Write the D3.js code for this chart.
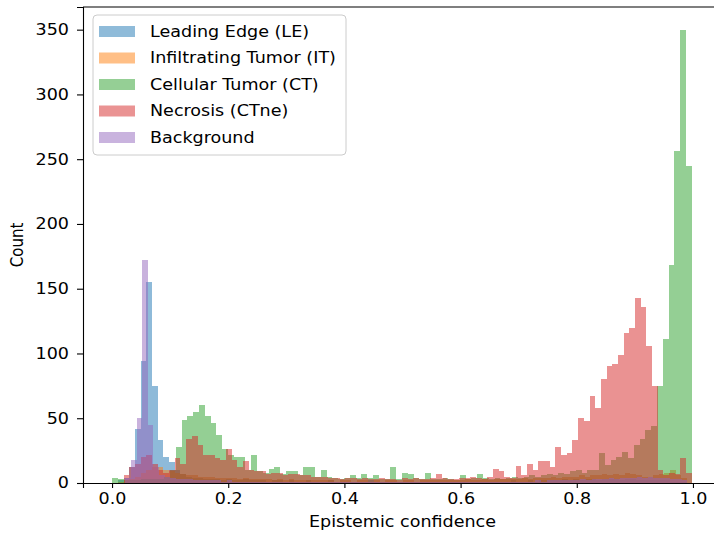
<!DOCTYPE html>
<html lang="en">
<head>
<meta charset="UTF-8">
<title>Epistemic confidence histogram</title>
<script src="https://d3js.org/d3.v7.min.js"></script>
<style>
    body { margin: 0; background: white; }
    svg text { font-family: "DejaVu Sans", sans-serif; fill: #000; }
</style>
</head>
<body>
<script>
    // series, in drawing order (later ones sit on top)
    var seriesNames = ["Leading Edge (LE)", "Infiltrating Tumor (IT)", "Cellular Tumor (CT)", "Necrosis (CTne)", "Background"];
    var seriesColors = ["#1f77b4", "#ff7f0e", "#2ca02c", "#d62728", "#9467bd"];

    // each series was binned separately: 100 bins between its own min and max
    var binLo = [0.01, 0.01, 0.0, 0.02, 0.023];
    var binHi = [0.99, 0.99, 0.998, 0.998, 0.99];

    var countsLE = [2,4,12,42,94,155,75,33,20,16, 10,7,5,4,4,3,3,3,2,3,
        2,2,3,2,2,2,1,2,2,1, 2,1,1,2,1,1,1,2,1,1, 1,1,1,1,2,1,1,1,1,1,
        1,1,1,1,1,1,1,1,1,1, 1,1,1,1,1,1,1,1,1,2, 1,1,2,1,2,2,2,2,3,2,
        3,2,3,3,2,3,3,3,2,3, 3,2,2,2,2,2,2,1,1,1];
    var countsIT = [1,2,3,5,8,10,12,12,10,9, 8,7,6,6,5,5,5,4,4,4,
        4,3,4,3,3,3,3,2,3,2, 3,2,2,2,2,2,2,2,1,2, 2,1,2,2,1,2,1,2,2,1,
        2,2,1,2,2,2,2,2,2,2, 2,3,2,2,3,2,3,3,3,3, 3,4,3,4,4,4,5,4,5,5,
        5,6,5,6,6,7,6,7,6,8, 7,6,5,5,6,7,8,10,6,4];
    var countsCT = [4,3,2,2,2,3,3,3,3,5, 10,28,49,52,55,60,52,46,37,26,
        22,20,20,10,22,9,8,11,12,7, 9,9,6,12,12,5,10,5,4,3, 4,6,4,7,4,6,3,3,12,3,
        8,7,4,3,8,3,3,4,3,2, 6,3,4,7,4,3,4,3,4,5, 4,5,6,5,6,7,6,8,7,9,
        10,8,10,10,23,14,18,20,24,19, 29,34,41,44,75,111,168,256,350,245];
    var countsCTne = [6,12,15,20,22,15,10,8,10,19, 15,34,36,29,22,22,19,18,26,18,
        12,17,10,9,9,7,8,8,6,7, 7,6,6,5,5,5,4,4,3,4, 4,3,4,3,3,4,3,3,2,4,
        3,4,3,3,4,7,4,3,3,4, 4,5,4,3,5,11,9,5,4,13, 6,15,10,17,17,12,28,22,23,33,
        50,48,67,58,80,90,92,99,116,120, 143,136,106,75,10,6,8,7,19,8];
    var countsBG = [4,18,50,172,45,12,6,5,4,3, 3,3,2,2,2,2,2,1,2,1,
        1,1,1,1,1,1,1,1,1,1, 1,1,1,1,1,1,1,1,1,1, 1,1,1,1,1,1,1,1,1,1,
        1,1,1,1,1,1,1,1,1,1, 1,1,1,1,1,1,1,1,1,1, 1,1,1,2,1,2,2,2,2,2,
        2,3,2,3,3,3,4,3,4,4, 4,5,4,5,4,4,4,3,3,2];
    var allCounts = [countsLE, countsIT, countsCT, countsCTne, countsBG];

    var xTicks = [0.0, 0.2, 0.4, 0.6, 0.8, 1.0];
    var yTicks = [0, 50, 100, 150, 200, 250, 300, 350];

    var width = 714, height = 538;
    var margin = {left: 83, right: -8, top: 7, bottom: 55};
    var fontSize = 15;
    var stretch = "scale(1.17,1)";  // the picture is a bit wider than tall

    var svg = d3.select("body").append("svg")
        .attr("width", width)
        .attr("height", height);

    var x = d3.scaleLinear()
        .domain([-0.05, 1.05])
        .range([margin.left, width - margin.right]);

    var yMax = d3.max(allCounts, function(c) { return d3.max(c); }) * 1.05;
    var y = d3.scaleLinear()
        .domain([0, yMax])
        .range([height - margin.bottom, margin.top]);

    var plot = svg.append("g");

    allCounts.forEach(function(counts, s) {
        var step = (binHi[s] - binLo[s]) / counts.length;
        var bins = counts.map(function(c, i) {
            return {x0: binLo[s] + i * step, x1: binLo[s] + (i + 1) * step, n: c};
        });
        plot.append("g")
            .attr("opacity", 0.5)
            .attr("fill", seriesColors[s])
            .selectAll("rect")
            .data(bins)
            .enter()
            .append("rect")
            .attr("shape-rendering", "crispEdges")
            .attr("x", function(d) { return x(d.x0); })
            .attr("width", function(d) { return x(d.x1) - x(d.x0); })
            .attr("y", function(d) { return y(d.n); })
            .attr("height", function(d) { return y(0) - y(d.n); });
    });

    // axes
    var xAxis = svg.append("g")
        .attr("transform", "translate(0," + (height - margin.bottom) + ")")
        .call(d3.axisBottom(x).tickValues(xTicks).tickFormat(d3.format(".1f")).tickSizeOuter(0).tickSize(5).tickPadding(5));
    var yAxis = svg.append("g")
        .attr("transform", "translate(" + margin.left + ",0)")
        .call(d3.axisLeft(y).tickValues(yTicks).tickSizeOuter(0).tickSize(6).tickPadding(6));

    [xAxis, yAxis].forEach(function(a) {
        a.select(".domain").attr("stroke", "#000").attr("stroke-width", 1.1);
        a.selectAll(".tick line").attr("stroke", "#000").attr("stroke-width", 1.1);
        a.selectAll(".tick text")
            .attr("font-size", fontSize)
            .attr("font-family", null)
            .attr("transform", stretch);
    });

    // top spine
    svg.append("line")
        .attr("x1", margin.left).attr("x2", width)
        .attr("y1", margin.top).attr("y2", margin.top)
        .attr("stroke", "#000").attr("stroke-width", 1.1);

    svg.append("text")
        .attr("transform", "translate(" + ((x.range()[0] + x.range()[1]) / 2) + ",527) " + stretch)
        .attr("text-anchor", "middle")
        .attr("font-size", fontSize)
        .text("Epistemic confidence");

    svg.append("text")
        .attr("transform", "translate(23," + ((y.range()[0] + y.range()[1]) / 2) + ") " + stretch + " rotate(-90)")
        .attr("text-anchor", "middle")
        .attr("font-size", fontSize)
        .text("Count");

    // legend
    var legend = svg.append("g");
    legend.append("rect")
        .attr("x", 93).attr("y", 15)
        .attr("width", 253).attr("height", 140)
        .attr("rx", 4)
        .attr("fill", "white").attr("fill-opacity", 0.8)
        .attr("stroke", "#cccccc");

    var rows = legend.selectAll(".row")
        .data(seriesNames)
        .enter()
        .append("g")
        .attr("transform", function(d, i) { return "translate(0," + (31.5 + i * 26.5) + ")"; });
    rows.append("rect")
        .attr("x", 99).attr("y", -5.5)
        .attr("width", 36).attr("height", 11)
        .attr("fill", function(d, i) { return seriesColors[i]; })
        .attr("fill-opacity", 0.5);
    rows.append("text")
        .attr("transform", "translate(150,0) " + stretch)
        .attr("dy", "0.35em")
        .attr("font-size", fontSize)
        .text(function(d) { return d; });
</script>
</body>
</html>
